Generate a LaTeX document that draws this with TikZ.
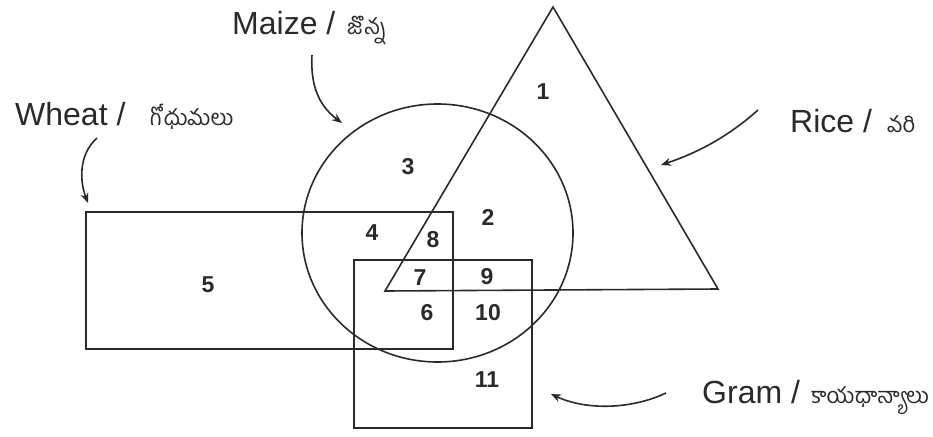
\documentclass[tikz,border=0pt]{standalone}
\usepackage{fontspec}
\setmainfont{Liberation Sans}
\newfontfamily\te[Script=Telugu]{Hind Guntur}
\usetikzlibrary{arrows.meta}
\definecolor{ink}{HTML}{2A2A2A}
\tikzset{
  shapeline/.style={draw=ink, line width=1.6pt},
  lbl/.style={anchor=base west, inner sep=0pt, font=\fontsize{32}{36}\selectfont, text=ink},
  tel/.style={anchor=base west, inner sep=0pt, font=\te\fontsize{22}{26}\selectfont, text=ink},
  num/.style={inner sep=0pt, font=\bfseries\fontsize{23}{27}\selectfont, text=ink},
  pointer/.style={draw=ink, line width=1.6pt, -{Stealth[length=10pt,width=8pt]}},
}
\begin{document}
\begin{tikzpicture}[x=1pt,y=-1pt]
\useasboundingbox (0,0) rectangle (933,436);
% shapes
\draw[shapeline] (553,7) -- (718,289) -- (385,291) -- cycle;
\draw[shapeline] (437.5,233) ellipse [x radius=135.5, y radius=129];
\draw[shapeline] (86,212) rectangle (453,349);
\draw[shapeline] (354,260) rectangle (532,428);
% labels
\node[lbl] (lmaize) at (232,35) {Maize /};
\node[tel] (tmaize) at (347,35) {జొన్న};
\node[lbl] (lwheat) at (15,125) {Wheat /};
\node[tel] (twheat) at (150,125) {గోధుమలు};
\node[lbl] (lrice) at (790,132) {Rice /};
\node[tel] (trice) at (887,132) {వరి};
\node[lbl] (lgram) at (702,403) {Gram /};
\node[tel] (tgram) at (811,403) {కాయధాన్యాలు};
% numbers
\node[num] (n1) at (543,92) {1};
\node[num] (n2) at (488,217) {2};
\node[num] (n3) at (408,167) {3};
\node[num] (n4) at (372,233) {4};
\node[num] (n5) at (208,285) {5};
\node[num] (n6) at (427,313) {6};
\node[num] (n7) at (420,278) {7};
\node[num] (n8) at (433,240) {8};
\node[num] (n9) at (487,277) {9};
\node[num] (n10) at (488,313) {10};
\node[num] (n11) at (487,380) {11};
% arrows
\coordinate (amaizeS) at (312,55);
\coordinate (amaizeE) at (342,123);
\coordinate (awheatS) at (97,138);
\coordinate (awheatE) at (88,203);
\coordinate (ariceS) at (758,110);
\coordinate (ariceE) at (661,165);
\coordinate (agramS) at (666,393);
\coordinate (agramE) at (551,394);
\draw[pointer] (amaizeS) .. controls (310,90) and (322,108) .. (amaizeE);
\draw[pointer] (awheatS) .. controls (78,155) and (80,182) .. (awheatE);
\draw[pointer] (ariceS) .. controls (730,135) and (700,152) .. (ariceE);
\draw[pointer] (agramS) .. controls (630,410) and (585,410) .. (agramE);
\end{tikzpicture}
\end{document}
